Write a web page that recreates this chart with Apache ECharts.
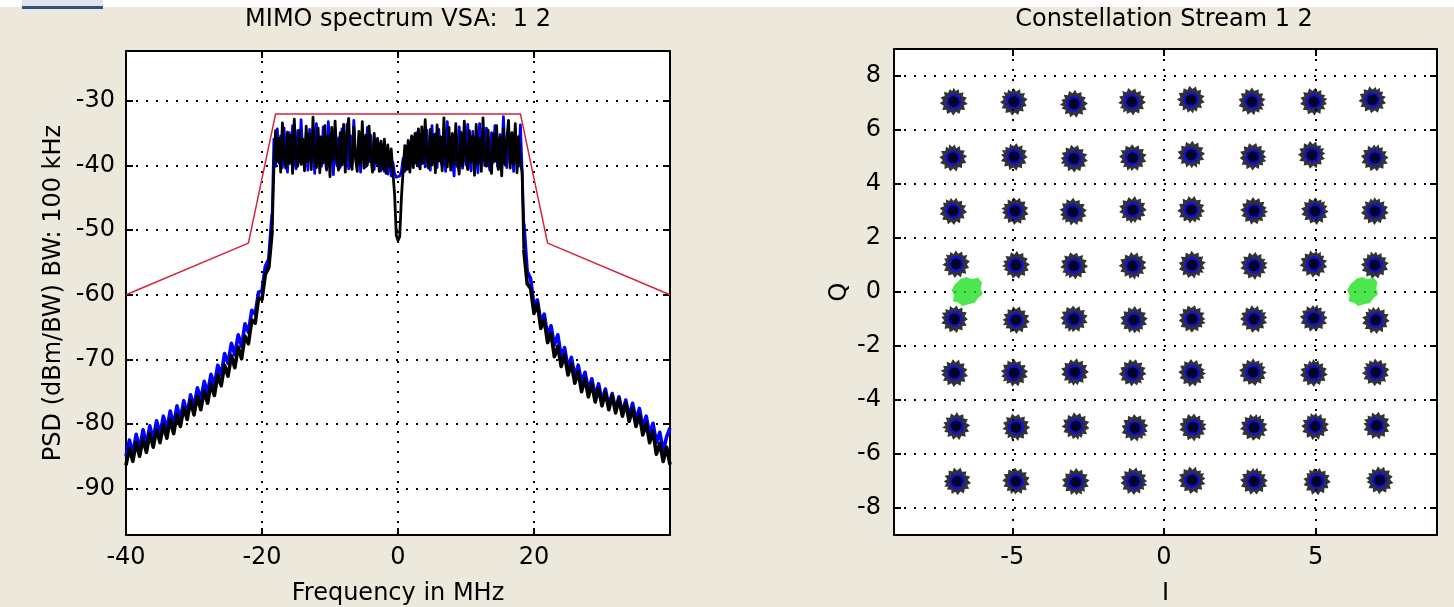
<!DOCTYPE html>
<html><head><meta charset="utf-8">
<script src="https://cdn.jsdelivr.net/npm/echarts@6.0.0/dist/echarts.min.js"></script>
<style>html,body{margin:0;padding:0;background:#ece9dc;}#c{width:1454px;height:607px;}</style>
</head><body><div id="c"></div>
<script>
// ---------- texts ----------
const spectrumTitle = 'MIMO spectrum VSA:  1 2';
const constTitle = 'Constellation Stream 1 2';
const spectrumXName = 'Frequency in MHz';
const spectrumYName = 'PSD (dBm/BW) BW: 100 kHz';
const constXName = 'I';
const constYName = 'Q';

// ---------- tick labels ----------
const psdTicks = [-90, -80, -70, -60, -50, -40, -30];
const freqTicks = [-40, -20, 0, 20];
const constXTicks = [-5, 0, 5];
const constYTicks = [-8, -6, -4, -2, 0, 2, 4, 6, 8];

// ---------- spectrum data (dBm), frequency grid: skirts 0.5 MHz, band 0.25 MHz ----------
const skirtLeftStart = -40, skirtRightStart = 18.5, skirtStep = 0.5;
const bandStart = -18.25, bandStep = 0.25;

const blackSkirtLeft = [-86.4,-83.8,-85.8,-82.9,-85.0,-82.3,-84.4,-81.5,-83.6,-80.9,
 -82.9,-80.1,-82.2,-79.3,-81.5,-78.6,-80.4,-77.5,-79.3,-76.4,
 -78.6,-75.7,-77.8,-74.9,-76.8,-73.8,-75.6,-72.4,-74.1,-70.9,
 -72.6,-69.4,-71.3,-68.1,-69.9,-66.4,-67.6,-63.9,-64.4,-60.5,
 -60.7,-56.8,-55.8,-50.0];
const blackBand = [
 -40.2,-34.6,-39.3,-35.8,-41.0,-33.4,-38.6,-40.4,-34.8,-39.7,
 -35.3,-41.2,-32.8,-38.9,-40.1,-34.5,-39.8,-35.9,-40.8,-33.9,
 -39.4,-35.1,-40.6,-32.5,-38.7,-40.3,-34.2,-41.1,-35.6,-39.6,
 -33.8,-40.5,-35.4,-41.7,-34.1,-39.2,-33.1,-38.8,-40.7,-34.9,
 -39.9,-33.6,-41.0,-35.2,-32.7,-39.5,-40.6,-34.0,-38.9,-40.9,
 -34.7,-39.8,-33.2,-40.4,-35.3,-39.9,-33.9,-38.6,-41.0,-35.0,
 -39.6,-35.8,-40.9,-36.2,-40.5,-35.9,-41.2,-36.8,-40.3,-37.4,
 -41.0,-44.5,-50.8,-51.6,-51.0,-45.0,-40.8,
 -36.9,-40.6,-36.1,-41.0,-35.4,-40.3,-35.0,-39.7,-34.3,-40.5,
 -34.0,-39.6,-32.9,-38.8,-40.4,-34.4,-39.9,-35.2,-41.1,-33.7,
 -39.3,-35.5,-40.8,-32.6,-38.5,-40.2,-34.1,-40.7,-35.0,-39.8,
 -33.5,-39.0,-41.3,-34.8,-40.0,-33.1,-38.4,-40.6,-34.6,-39.4,
 -35.4,-41.5,-33.6,-39.7,-35.8,-40.9,-32.6,-38.8,-40.1,-34.5,
 -39.6,-41.2,-35.1,-39.3,-33.8,-40.6,-35.6,-41.6,-34.3,-39.9,
 -36.0,-33.0,-40.4,-34.9,-39.8,-33.5,-41.1,-35.5,-39.4,-41.0];
const blackSkirtRight = [-53.0,-58.3,-59.0,-62.9,-61.4,-65.2,-63.9,-67.4,-66.0,-69.6,
 -68.0,-71.1,-69.3,-72.4,-70.7,-73.7,-71.9,-75.0,-73.0,-75.8,
 -73.8,-76.6,-74.5,-77.2,-75.1,-77.8,-75.6,-78.3,-76.1,-78.8,
 -76.8,-79.6,-77.6,-80.4,-78.6,-81.7,-79.9,-82.9,-81.2,-84.7,
 -83.0,-85.8,-83.6,-86.3];

const blueSkirtLeft = [-85.0,-82.5,-84.6,-81.6,-83.9,-80.9,-83.2,-80.3,-82.4,-79.5,
 -81.6,-78.8,-80.9,-78.0,-80.2,-77.2,-79.3,-76.4,-78.5,-75.5,
 -77.4,-74.4,-76.3,-73.4,-75.2,-72.3,-74.0,-70.9,-72.4,-69.1,
 -70.6,-67.5,-69.3,-66.2,-68.0,-64.5,-65.8,-62.4,-63.0,-59.6,
 -59.4,-55.6,-54.5,-47.5];
const blueBand = [
 -35.9,-40.1,-34.3,-39.6,-35.4,-40.3,-34.2,-38.9,-41.0,-34.9,
 -39.5,-33.8,-39.1,-40.5,-34.6,-39.4,-32.9,-38.6,-40.2,-35.1,
 -40.7,-34.4,-39.0,-35.2,-41.2,-33.5,-39.5,-35.5,-40.1,-34.0,
 -38.8,-40.7,-33.2,-39.4,-35.0,-41.4,-34.4,-39.9,-35.7,-40.3,
 -34.3,-39.2,-40.0,-33.6,-40.5,-35.4,-39.6,-33.0,-38.4,-39.8,
 -35.6,-41.0,-34.8,-38.6,-40.2,-34.1,-39.4,-35.3,-38.9,-40.6,
 -35.9,-39.9,-36.6,-40.8,-37.1,-40.9,-37.4,-41.3,-38.0,-41.6,
 -39.5,-41.2,-41.8,-42.0,-41.6,-40.9,-38.9,
 -40.9,-37.0,-40.5,-36.3,-40.0,-35.6,-39.6,-34.9,-40.1,-35.2,
 -39.7,-34.9,-40.2,-34.5,-39.1,-40.7,-33.8,-39.5,-35.1,-40.3,
 -34.4,-38.8,-40.1,-34.8,-40.9,-33.2,-39.3,-35.7,-38.9,-41.6,
 -35.3,-40.2,-34.0,-38.7,-40.4,-35.0,-39.9,-33.6,-39.2,-40.8,
 -34.7,-39.6,-35.8,-41.1,-33.5,-39.4,-35.4,-40.0,-34.2,-39.1,
 -40.7,-34.9,-39.5,-33.8,-38.9,-40.5,-35.2,-39.8,-32.4,-38.6,
 -40.3,-34.6,-39.7,-35.0,-40.9,-34.3,-39.2,-40.1,-33.7,-40.6];
const blueSkirtRight = [-49.0,-56.4,-57.5,-61.6,-60.8,-64.2,-63.0,-66.3,-64.8,-67.8,
 -66.2,-69.6,-68.2,-71.3,-69.7,-72.6,-70.9,-73.6,-72.0,-74.7,
 -73.0,-75.7,-73.8,-76.5,-74.6,-77.2,-75.3,-77.8,-75.8,-78.4,
 -76.3,-78.9,-76.8,-79.4,-77.6,-80.5,-78.8,-81.6,-79.9,-82.9,
 -81.3,-84.2,-82.0,-80.6];

// spectral mask
const maskFreq = [-40, -22, -18, 18, 22, 40];
const maskLevel = [-60, -52, -32, -32, -52, -60];

// ---------- constellation cluster centres (I, Q) ----------
const qamI = [
 -6.93,-4.95,-2.97,-1.06,0.89,2.90,4.94,6.88,
 -6.95,-4.94,-2.97,-1.03,0.90,2.94,4.88,6.95,
 -6.95,-4.91,-3.00,-1.03,0.90,2.97,4.98,6.95,
 -6.85,-4.88,-2.97,-1.03,0.93,2.97,4.94,6.95,
 -6.91,-4.88,-2.97,-0.99,0.93,2.97,4.94,6.98,
 -6.91,-4.94,-2.94,-1.03,0.93,2.94,4.94,6.98,
 -6.85,-4.88,-2.91,-0.96,0.96,2.97,4.98,7.01,
 -6.82,-4.88,-2.91,-0.99,0.93,2.97,5.04,7.11];
const qamQ = [
 7.05,7.05,6.97,7.05,7.12,7.05,7.05,7.12,
 4.97,5.01,4.94,4.97,5.08,5.01,5.08,4.97,
 3.00,3.00,2.97,3.04,3.04,3.00,3.00,3.00,
 1.04,1.00,0.97,0.97,1.00,0.97,1.04,1.00,
 -1.00,-1.04,-1.00,-1.04,-1.00,-1.00,-0.97,-1.04,
 -3.00,-3.00,-2.97,-3.00,-3.00,-2.97,-3.00,-2.97,
 -4.97,-5.01,-4.97,-5.04,-5.01,-5.01,-4.97,-4.94,
 -7.01,-7.01,-7.04,-7.01,-6.97,-7.01,-7.01,-6.97];
const pilotI = [-6.49, 6.55];
const pilotQ = [0.02, 0.02];

// ---------- build series data ----------
function onGrid(start, step, vals) { return vals.map((v, i) => [+(start + i * step).toFixed(3), v]); }
function pieces(skL, band, skR) {
  const a = onGrid(skirtLeftStart, skirtStep, skL);
  const b = onGrid(bandStart, bandStep, band);
  const c = onGrid(skirtRightStart, skirtStep, skR);
  return { left: a, band: [a[a.length - 1]].concat(b, [c[0]]), right: c };
}
const blackParts = pieces(blackSkirtLeft, blackBand, blackSkirtRight);
const blueParts = pieces(blueSkirtLeft, blueBand, blueSkirtRight);
const maskData = maskFreq.map((f, i) => [f, maskLevel[i]]);
const qamData = qamI.map((x, i) => [x, qamQ[i]]);
const pilotData = pilotI.map((x, i) => [x, pilotQ[i]]);

// ---------- styles ----------
const FONT = 'DejaVu Sans';
const FS = 24;
const txt = { fontFamily: FONT, fontSize: FS, color: '#000' };
const gridDots = { show: true, lineStyle: { color: '#000', width: 2, type: [2, 8] } };
const boxLine = { show: true, onZero: false, lineStyle: { color: '#000', width: 2 } };
const inTick = (vals) => ({ show: true, inside: true, length: 7, customValues: vals, lineStyle: { color: '#000', width: 2 } });
const blobOuter = 'path://M50,0 L57,12 L68,6 L70,20 L85,16 L82,31 L97,36 L88,48 L100,58 L86,64 L90,80 L75,79 L70,94 L58,86 L48,100 L40,87 L26,94 L24,79 L9,80 L14,65 L0,56 L12,47 L3,34 L18,30 L15,15 L30,19 L36,5 L44,13 Z';
const blobInner = 'path://M50,4 L62,10 L74,8 L80,20 L92,28 L90,42 L98,54 L88,64 L90,78 L76,84 L66,96 L52,90 L38,96 L28,86 L12,82 L14,68 L2,56 L12,44 L8,30 L22,22 L28,8 L40,12 Z';
const blobPilot = 'path://M30,6 L48,0 L66,8 L84,2 L98,18 L94,40 L100,60 L86,72 L74,90 L54,94 L36,100 L20,88 L4,84 L8,64 L0,46 L10,26 Z';

const gL = { left: 126, top: 51, width: 544, height: 484 };
const gR = { left: 894, top: 49, width: 543, height: 486 };

function trace(data, color, width, z) {
  return { type: 'line', xAxisIndex: 0, yAxisIndex: 0, data: data, showSymbol: false, symbol: 'none',
    lineStyle: { color: color, width: width, join: 'round' }, z: z };
}

const chart = echarts.init(document.getElementById('c'), null, { renderer: 'canvas' });
chart.setOption({
  backgroundColor: '#ece9dc',
  animation: false,
  graphic: [
    { type: 'rect', shape: { x: 0, y: 0, width: 1454, height: 7 }, style: { fill: '#ffffff' }, silent: true },
    { type: 'rect', shape: { x: 22, y: 0, width: 81, height: 8 }, style: { fill: '#dfe4ec' }, silent: true },
    { type: 'rect', shape: { x: 22, y: 6, width: 81, height: 3 }, style: { fill: '#35507e' }, silent: true },
    { type: 'text', x: 398, y: 20, style: { text: spectrumTitle, align: 'center', verticalAlign: 'middle', fill: '#000', font: FS + 'px "' + FONT + '"' } },
    { type: 'text', x: 1164, y: 20, style: { text: constTitle, align: 'center', verticalAlign: 'middle', fill: '#000', font: FS + 'px "' + FONT + '"' } }
  ],
  grid: [
    Object.assign({ containLabel: false, outerBoundsMode: 'none', backgroundColor: '#ffffff', show: true, borderWidth: 0 }, gL),
    Object.assign({ containLabel: false, outerBoundsMode: 'none', backgroundColor: '#ffffff', show: true, borderWidth: 0 }, gR)
  ],
  xAxis: [
    { gridIndex: 0, type: 'value', min: -40, max: 40, position: 'bottom',
      name: spectrumXName, nameLocation: 'middle', nameGap: 47, nameTextStyle: txt,
      axisLine: boxLine, axisTick: inTick(freqTicks.concat([40])),
      axisLabel: Object.assign({ customValues: freqTicks, margin: 11 }, txt),
      splitLine: gridDots },
    { gridIndex: 0, type: 'value', min: -40, max: 40, position: 'top',
      axisLine: boxLine, axisTick: inTick(freqTicks.concat([40])), axisLabel: { show: false }, splitLine: { show: false } },
    { gridIndex: 1, type: 'value', min: -8.9, max: 9, position: 'bottom',
      name: constXName, nameLocation: 'middle', nameGap: 47, nameTextStyle: txt,
      axisLine: boxLine, axisTick: inTick(constXTicks),
      axisLabel: Object.assign({ customValues: constXTicks, margin: 11 }, txt),
      splitLine: gridDots },
    { gridIndex: 1, type: 'value', min: -8.9, max: 9, position: 'top',
      axisLine: boxLine, axisTick: inTick(constXTicks), axisLabel: { show: false }, splitLine: { show: false } }
  ],
  yAxis: [
    { gridIndex: 0, type: 'value', min: -97.2, max: -22.25, position: 'left',
      name: spectrumYName, nameLocation: 'middle', nameGap: 60, nameRotate: 90, nameTextStyle: txt,
      axisLine: boxLine, axisTick: inTick(psdTicks),
      axisLabel: Object.assign({ customValues: psdTicks, margin: 11 }, txt),
      splitLine: gridDots },
    { gridIndex: 0, type: 'value', min: -97.2, max: -22.25, position: 'right',
      axisLine: boxLine, axisTick: inTick(psdTicks), axisLabel: { show: false }, splitLine: { show: false } },
    { gridIndex: 1, type: 'value', min: -9, max: 9, position: 'left',
      name: constYName, nameLocation: 'middle', nameGap: 42, nameRotate: 90, nameTextStyle: txt,
      axisLine: boxLine, axisTick: inTick(constYTicks),
      axisLabel: Object.assign({ customValues: constYTicks, margin: 13 }, txt),
      splitLine: gridDots },
    { gridIndex: 1, type: 'value', min: -9, max: 9, position: 'right',
      axisLine: boxLine, axisTick: inTick(constYTicks), axisLabel: { show: false }, splitLine: { show: false } }
  ],
  series: [
    trace(blueParts.left, '#0000ff', 3.6, 3),
    trace(blueParts.band, '#0000ff', 2.8, 3),
    trace(blueParts.right, '#0000ff', 3.6, 3),
    trace(blackParts.left, '#000000', 3.6, 4),
    trace(blackParts.band, '#000000', 2.8, 4),
    trace(blackParts.right, '#000000', 3.6, 4),
    { type: 'line', xAxisIndex: 0, yAxisIndex: 0, data: maskData, showSymbol: false, symbol: 'none',
      lineStyle: { color: '#d4233f', width: 1.5 }, z: 5 },
    { type: 'scatter', xAxisIndex: 2, yAxisIndex: 2, data: qamData, symbol: blobOuter, symbolSize: 28,
      symbolRotate: (v, p) => (p.dataIndex * 47) % 360, itemStyle: { color: '#000' }, z: 3 },
    { type: 'scatter', xAxisIndex: 2, yAxisIndex: 2, data: qamData, symbol: blobInner, symbolSize: 17,
      symbolRotate: (v, p) => (p.dataIndex * 83) % 360, itemStyle: { color: '#0a0af0' }, z: 4 },
    { type: 'scatter', xAxisIndex: 2, yAxisIndex: 2, data: qamData, symbol: 'circle', symbolSize: 11,
      itemStyle: { color: '#000' }, z: 5 },
    { type: 'scatter', xAxisIndex: 2, yAxisIndex: 2, data: pilotData, symbol: blobPilot, symbolSize: [31, 29],
      itemStyle: { color: '#22e022' }, z: 6 }
  ]
});
</script></body></html>
